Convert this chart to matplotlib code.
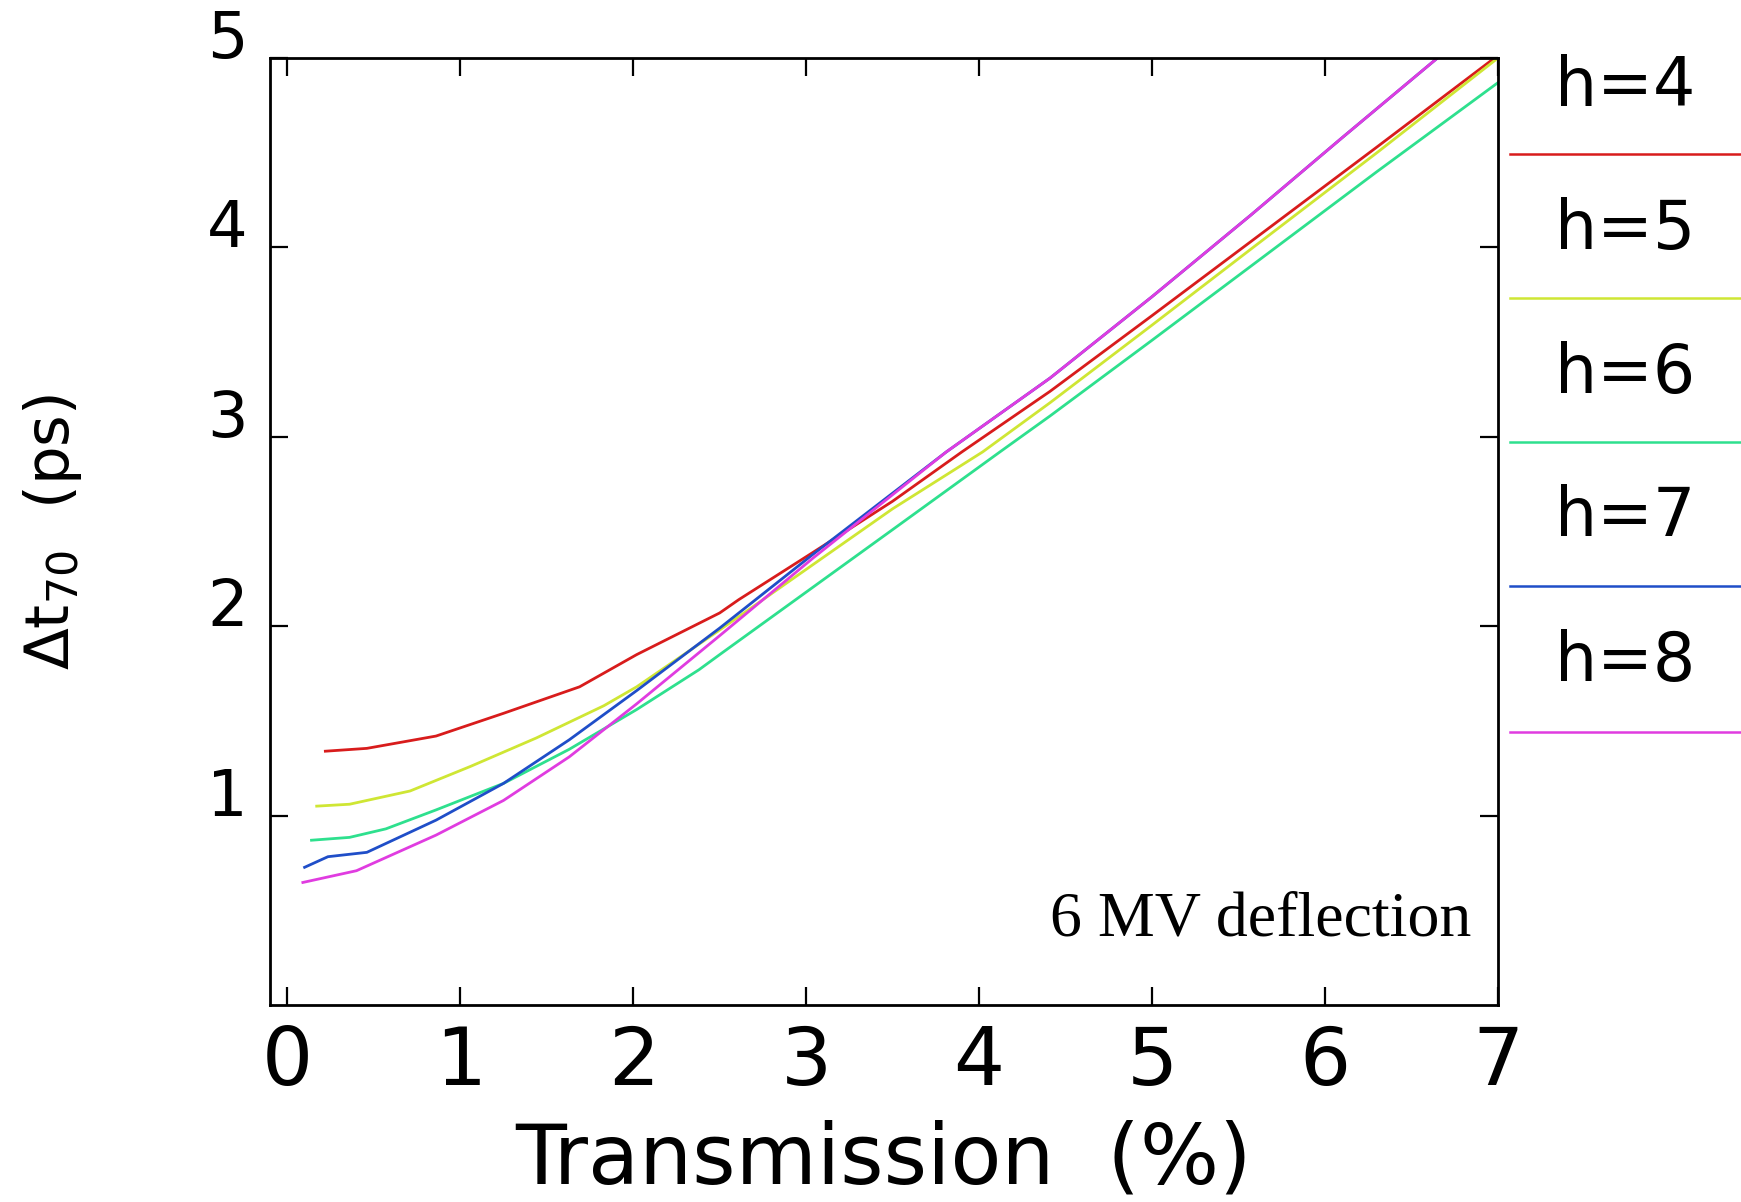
import matplotlib
matplotlib.use("Agg")
import matplotlib.pyplot as plt
from matplotlib.lines import Line2D

# ---- data ----
h4_x = [0.22, 0.46, 0.86, 1.25, 1.69, 2.02, 2.50, 2.61, 3.04, 3.50, 3.90, 4.41, 5.00, 5.57, 6.30, 6.98]
h4_y = [1.34, 1.355, 1.42, 1.54, 1.68, 1.85, 2.07, 2.14, 2.39, 2.66, 2.92, 3.24, 3.64, 4.03, 4.53, 5.00]

h5_x = [0.17, 0.36, 0.71, 1.06, 1.44, 1.83, 2.02, 2.50, 3.00, 3.50, 4.02, 4.41, 5.00, 5.57, 6.30, 7.00]
h5_y = [1.05, 1.06, 1.13, 1.26, 1.41, 1.58, 1.68, 1.98, 2.30, 2.62, 2.92, 3.18, 3.59, 3.99, 4.50, 5.00]

h6_x = [0.14, 0.36, 0.57, 0.86, 1.25, 1.63, 2.02, 2.38, 2.50, 3.00, 3.50, 4.12, 4.41, 5.00, 5.57, 6.30, 7.00]
h6_y = [0.87, 0.885, 0.93, 1.03, 1.17, 1.35, 1.56, 1.77, 1.85, 2.18, 2.51, 2.92, 3.11, 3.51, 3.90, 4.40, 4.87]

h7_x = [0.10, 0.235, 0.46, 0.86, 1.25, 1.63, 2.02, 2.50, 3.04, 3.81, 4.41, 5.00, 5.57, 6.10, 6.65]
h7_y = [0.727, 0.783, 0.806, 0.976, 1.17, 1.40, 1.66, 1.99, 2.38, 2.92, 3.31, 3.74, 4.17, 4.58, 5.00]

h8_x = [0.09, 0.40, 0.86, 1.25, 1.63, 2.02, 2.50, 3.04, 3.81, 4.41, 5.00, 5.57, 6.10, 6.65]
h8_y = [0.647, 0.709, 0.897, 1.08, 1.31, 1.59, 1.95, 2.36, 2.92, 3.31, 3.74, 4.17, 4.58, 5.00]

series_labels = ["h=4", "h=5", "h=6", "h=7", "h=8"]
series_colors = ["#d81c1c", "#cfe634", "#2ee08e", "#1f4ec8", "#e03ce0"]
xticks = [0, 1, 2, 3, 4, 5, 6, 7]
yticks = [1, 2, 3, 4, 5]
annotation = "6 MV deflection"

W, H = 1741, 1202
fig = plt.figure(figsize=(W / 100, H / 100), dpi=100)
plt.rcParams['font.family'] = ['DejaVu Sans']

ax = fig.add_axes([270 / W, 1 - 1005 / H, (1498 - 270) / W, (1005 - 58) / H])

xs = [h4_x, h5_x, h6_x, h7_x, h8_x]
ys = [h4_y, h5_y, h6_y, h7_y, h8_y]
for x, y, c in zip(xs, ys, series_colors):
    ax.plot(x, y, color=c, lw=2.0, solid_joinstyle='round')

ax.set_xlim(-0.1, 7.0)
ax.set_ylim(0, 5)
ax.set_xticks(xticks)
ax.set_yticks(yticks)
ax.set_xticklabels([str(v) for v in xticks], fontsize=58)
ax.set_yticklabels([str(v) for v in yticks], fontsize=46)
for t in ax.get_yticklabels():
    t.set_va('baseline')

ax.tick_params(axis='both', which='major', direction='in', length=13, width=1.6,
               top=True, right=True, color='black')
ax.tick_params(axis='x', pad=14)
ax.tick_params(axis='y', pad=16)
for s in ax.spines.values():
    s.set_linewidth(2.0)

ax.set_xlabel("Transmission  (%)", fontsize=60)
ax.xaxis.set_label_coords(0.5, (1005 - 1160) / 947)
ax.xaxis.label.set_va('center')
ax.set_ylabel(r"$\Delta\mathrm{t}_{70}$  (ps)", fontsize=44)
ax.yaxis.set_label_coords((52 - 270) / 1228, 0.5)
ax.yaxis.label.set_va('center')

# annotation
fig.text(1471 / W, 1 - 936 / H, annotation, fontsize=46, family='Liberation Serif',
         ha='right', va='baseline')

# legend on right side (outside axes)
text_y = [87, 230, 374, 517, 662]
line_y = [154, 298, 442, 586, 732]
for lab, c, ty, ly in zip(series_labels, series_colors, text_y, line_y):
    fig.text(1625 / W, 1 - ty / H, lab, fontsize=48, ha='center', va='center')
    fig.add_artist(Line2D([1510 / W, 1.0], [1 - ly / H, 1 - ly / H],
                          transform=fig.transFigure, color=c, lw=1.8))

fig.savefig("out.png", dpi=100)
